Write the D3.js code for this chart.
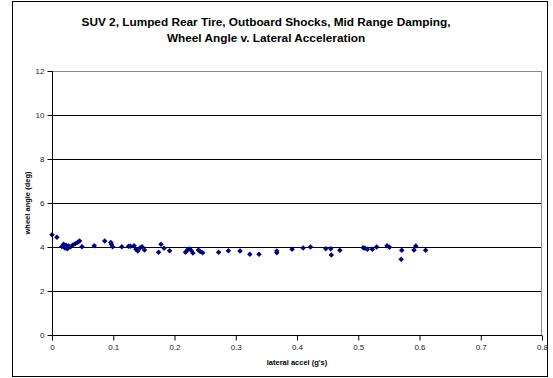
<!DOCTYPE html>
<html>
<head>
<meta charset="utf-8">
<script src="https://cdn.jsdelivr.net/npm/d3@7"></script>
<style>
  html, body { margin: 0; padding: 0; background: #fff; }
  svg { display: block; font-family: "Liberation Sans", Arial, sans-serif; }
</style>
</head>
<body>
<svg id="chart" width="553" height="378"></svg>
<script>
// Lateral acceleration (g's) for each recorded sample
const lateralAccel = [
  0.000, 0.008, 0.016, 0.019, 0.021, 0.023, 0.025, 0.027, 0.030, 0.034,
  0.038, 0.042, 0.045, 0.049, 0.069, 0.086, 0.096, 0.097, 0.099, 0.114,
  0.125, 0.128, 0.134, 0.137, 0.140, 0.144, 0.147, 0.151, 0.174, 0.178,
  0.183, 0.192, 0.218, 0.221, 0.224, 0.227, 0.230, 0.239, 0.242, 0.246,
  0.272, 0.288, 0.307, 0.323, 0.338, 0.367, 0.367, 0.392, 0.410, 0.422,
  0.447, 0.455, 0.456, 0.470, 0.508, 0.511, 0.515, 0.523, 0.530, 0.547,
  0.551, 0.570, 0.571, 0.591, 0.594, 0.610
];
// Wheel angle (deg) for the same samples
const wheelAngle = [
  4.56, 4.44, 4.02, 4.12, 3.95, 4.08, 3.92, 4.05, 4.00, 4.09,
  4.15, 4.22, 4.27, 4.01, 4.06, 4.27, 4.21, 4.12, 4.01, 4.01,
  4.03, 4.03, 4.06, 3.90, 3.82, 3.97, 4.01, 3.86, 3.76, 4.12,
  3.94, 3.83, 3.76, 3.86, 3.91, 3.85, 3.73, 3.86, 3.80, 3.74,
  3.76, 3.83, 3.82, 3.67, 3.67, 3.82, 3.74, 3.90, 3.95, 4.00,
  3.92, 3.92, 3.64, 3.85, 3.97, 3.94, 3.90, 3.90, 4.00, 4.06,
  3.99, 3.44, 3.85, 3.86, 4.05, 3.85
];
const xTicks = [0, 0.1, 0.2, 0.3, 0.4, 0.5, 0.6, 0.7, 0.8];
const yTicks = [0, 2, 4, 6, 8, 10, 12];
const titleLines = [
  "SUV 2, Lumped Rear Tire, Outboard Shocks, Mid Range Damping,",
  "Wheel Angle v. Lateral Acceleration"
];
const xTitle = "lateral accel (g's)";
const yTitle = "wheel angle (deg)";

const svg = d3.select("#chart");
const plot = { left: 52, right: 542, top: 71, bottom: 335 };

const x = d3.scaleLinear().domain([0, 0.8]).range([plot.left, plot.right]);
const y = d3.scaleLinear().domain([0, 12]).range([plot.bottom, plot.top]);

// Chart frame
svg.append("rect")
  .attr("x", 12.5).attr("y", 1.5)
  .attr("width", 535).attr("height", 375)
  .attr("fill", "#fff").attr("stroke", "#000").attr("stroke-width", 1);

// Title
svg.append("g")
  .selectAll("text").data(titleLines).join("text")
  .attr("x", 266).attr("y", (d, i) => 26 + i * 16)
  .attr("text-anchor", "middle")
  .attr("font-size", 11.8).attr("font-weight", "bold")
  .text(d => d);

// Plot area border (grey)
svg.append("rect")
  .attr("x", plot.left + 0.5).attr("y", plot.top + 0.5)
  .attr("width", plot.right - plot.left - 1).attr("height", plot.bottom - plot.top)
  .attr("fill", "none").attr("stroke", "#8c8c8c").attr("stroke-width", 1);

// Horizontal gridlines
svg.append("g")
  .selectAll("line").data(yTicks.filter(v => v > 0 && v < 12)).join("line")
  .attr("x1", plot.left).attr("x2", plot.right - 1)
  .attr("y1", d => Math.round(y(d)) + 0.5).attr("y2", d => Math.round(y(d)) + 0.5)
  .attr("stroke", "#000").attr("stroke-width", 1);

// Axes
const yAxis = d3.axisLeft(y).tickValues(yTicks).tickSize(5).tickPadding(3).tickFormat(d3.format("d"));
const xAxis = d3.axisBottom(x).tickValues(xTicks).tickSize(5).tickPadding(4).tickFormat(d => d === 0 ? "0" : d3.format(".1f")(d));

const gy = svg.append("g").attr("transform", `translate(${plot.left + 0.5},0)`).call(yAxis);
const gx = svg.append("g").attr("transform", `translate(0,${plot.bottom + 0.5})`).call(xAxis);

[gx, gy].forEach(g => {
  g.select(".domain").remove();
  g.selectAll(".tick line").attr("stroke", "#000");
  g.selectAll(".tick text").attr("font-size", 8).attr("fill", "#222")
    .attr("font-family", "'Liberation Sans', Arial, sans-serif");
});
gy.append("line").attr("x1", 0).attr("x2", 0).attr("y1", plot.top).attr("y2", plot.bottom).attr("stroke", "#000");
gx.append("line").attr("x1", plot.left).attr("x2", plot.right).attr("y1", 0).attr("y2", 0).attr("stroke", "#000");

// Axis titles
svg.append("text")
  .attr("x", (plot.left + plot.right) / 2).attr("y", 365)
  .attr("text-anchor", "middle").attr("font-size", 7.5).attr("font-weight", "bold")
  .text(xTitle);
svg.append("text")
  .attr("transform", `translate(30,${(plot.top + plot.bottom) / 2}) rotate(-90)`)
  .attr("text-anchor", "middle").attr("font-size", 7.5).attr("font-weight", "bold")
  .text(yTitle);

// Data markers (navy diamonds: squares turned 45 degrees)
const diamond = d3.symbol().type(d3.symbolSquare).size(15);
svg.append("g")
  .selectAll("path").data(lateralAccel.map((v, i) => [v, wheelAngle[i]])).join("path")
  .attr("d", diamond)
  .attr("transform", d => `translate(${x(d[0])},${y(d[1])}) rotate(45)`)
  .attr("fill", "#000080");
</script>
</body>
</html>
